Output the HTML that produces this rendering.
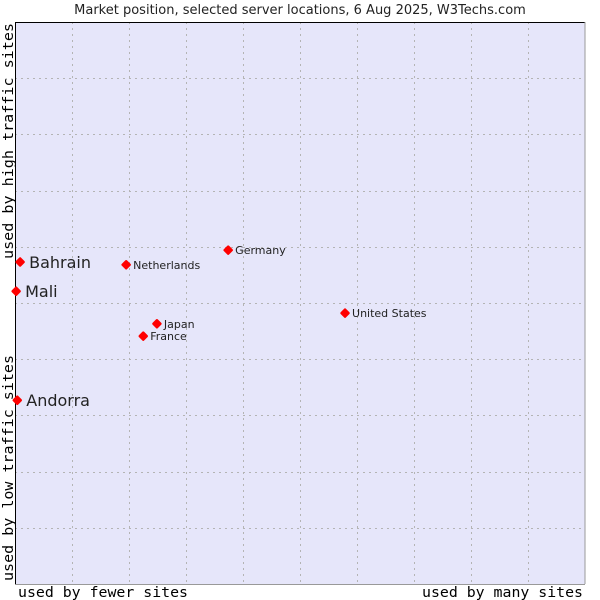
<!DOCTYPE html>
<html><head><meta charset="utf-8"><style>
body{margin:0;background:#fff}
svg{display:block}
</style></head><body>
<svg width="600" height="600" xmlns="http://www.w3.org/2000/svg">
<text x="300" y="14" text-anchor="middle" font-family="DejaVu Sans, sans-serif" font-size="13" fill="#222">Market position, selected server locations, 6 Aug 2025, W3Techs.com</text>
<rect x="15" y="22" width="570" height="562" fill="#e6e6fa"/>
<g id="grid"></g>
<line x1="15.5" y1="22" x2="15.5" y2="584" stroke="#000"/>
<line x1="15" y1="22.5" x2="585" y2="22.5" stroke="#000"/>
<line x1="585" y1="22" x2="585" y2="584" stroke="#999"/>
<line x1="15" y1="584.5" x2="585" y2="584.5" stroke="#999"/>
<g id="points"></g>
<text x="18" y="597" textLength="170" lengthAdjust="spacingAndGlyphs" font-family="DejaVu Sans Mono, monospace" font-size="14" fill="#000">used by fewer sites</text>
<text x="422" y="597" textLength="161" lengthAdjust="spacingAndGlyphs" font-family="DejaVu Sans Mono, monospace" font-size="14" fill="#000">used by many sites</text>
<text transform="translate(13,259) rotate(-90)" textLength="236" lengthAdjust="spacingAndGlyphs" font-family="DejaVu Sans Mono, monospace" font-size="14" fill="#000">used by high traffic sites</text>
<text transform="translate(13,581) rotate(-90)" textLength="226" lengthAdjust="spacingAndGlyphs" font-family="DejaVu Sans Mono, monospace" font-size="14" fill="#000">used by low traffic sites</text>
</svg>
<script>
const names=["Bahrain","Mali","Andorra","Netherlands","Germany","United States","Japan","France"];
const xVals=[0.9,0.2,0.4,19.5,37.4,57.9,24.9,22.5];
const yVals=[57.3,52.1,32.7,56.8,59.4,48.2,46.3,44.1];
const bigLabel=[true,true,true,false,false,false,false,false];
const NS="http://www.w3.org/2000/svg";
const X=v=>15+v/100*570, Y=v=>584-v/100*562;
const grid=document.getElementById('grid');
for(let i=1;i<10;i++){
  const l=document.createElementNS(NS,'line');
  const gx=Math.round(X(i*10))+0.5;
  l.setAttribute('x1',gx);l.setAttribute('x2',gx);l.setAttribute('y1',22);l.setAttribute('y2',584);
  l.setAttribute('stroke','#b4b4b4');l.setAttribute('stroke-dasharray','2,4');
  
  
  grid.appendChild(l);
  const h=document.createElementNS(NS,'line');
  const gy=Math.round(Y(i*10))+0.5;
  h.setAttribute('x1',15);h.setAttribute('x2',585);h.setAttribute('y1',gy);h.setAttribute('y2',gy);
  h.setAttribute('stroke','#b4b4b4');h.setAttribute('stroke-dasharray','2,4');
  
  
  grid.appendChild(h);
}
const pts=document.getElementById('points');
names.forEach((n,i)=>{
  const x=X(xVals[i]),y=Y(yVals[i]);
  const p=document.createElementNS(NS,'polygon');
  p.setAttribute('points',`${x},${y-3.5} ${x+3.5},${y} ${x},${y+3.5} ${x-3.5},${y}`);
  p.setAttribute('fill','#f00');
  p.setAttribute('stroke','#f00');
  p.setAttribute('stroke-width','2.5');
  p.setAttribute('stroke-linejoin','round');
  
  
  pts.appendChild(p);
  const t=document.createElementNS(NS,'text');
  t.setAttribute('x',x+(bigLabel[i]?9:7));
  t.setAttribute('y',y+(bigLabel[i]?6:4));
  t.setAttribute('font-family','DejaVu Sans, sans-serif');
  t.setAttribute('font-size',bigLabel[i]?16:11);
  t.setAttribute('fill','#222');
  t.textContent=n;
  
  
  pts.appendChild(t);
});
</script>
</body></html>
